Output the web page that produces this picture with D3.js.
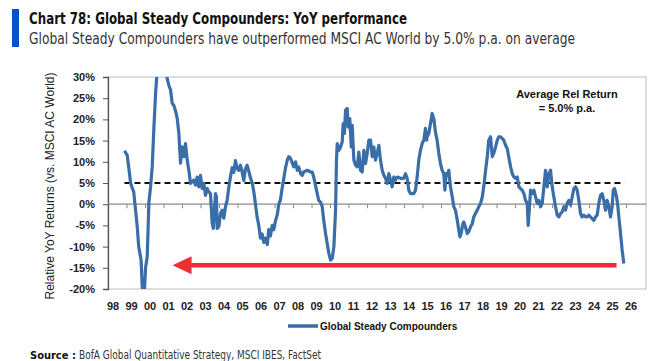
<!DOCTYPE html>
<html lang="en">
<head>
<meta charset="UTF-8">
<title>Chart 78</title>
<script src="https://cdn.jsdelivr.net/npm/d3@7"></script>
<style>
    body { margin: 0; background: #fff; }
    svg { display: block; }
    .title { font-family: "Liberation Sans Narrow", "DejaVu Sans Condensed", sans-serif; font-weight: bold; font-size: 16px; fill: #111; }
    .subtitle { font-family: "Liberation Sans Narrow", "DejaVu Sans Condensed", sans-serif; font-size: 15px; fill: #333; }
    .tick-lbl { font-family: "Liberation Sans", Arial, sans-serif; font-weight: bold; font-size: 11px; fill: #222; }
    .axis-title { font-family: "Liberation Sans", Arial, sans-serif; font-size: 12px; fill: #222; }
    .note { font-family: "Liberation Sans", Arial, sans-serif; font-weight: bold; font-size: 11px; fill: #111; }
    .source { font-family: "Liberation Sans Narrow", "DejaVu Sans Condensed", sans-serif; font-size: 12px; fill: #333; }
</style>
</head>
<body>
<div id="chart"></div>
<script>
// relative YoY return vs MSCI AC World (%)
const years = [
    1998.89, 1999.04, 1999.16, 1999.22, 1999.31, 1999.39, 1999.58, 1999.66, 1999.79, 1999.85,
    1999.89, 1999.97, 2000.03, 2000.12, 2000.21, 2000.30, 2000.39, 2000.48, 2000.57, 2000.65,
    2000.73, 2000.84, 2000.95, 2001.05, 2001.14, 2001.20, 2001.29, 2001.38, 2001.47, 2001.56,
    2001.65, 2001.74, 2001.83, 2001.92, 2002.01, 2002.10, 2002.19, 2002.28, 2002.37, 2002.46,
    2002.64, 2002.73, 2002.82, 2002.91, 2003.00, 2003.09, 2003.18, 2003.27, 2003.36, 2003.45,
    2003.54, 2003.63, 2003.69, 2003.81, 2003.86, 2003.90, 2003.99, 2004.08, 2004.17, 2004.26,
    2004.35, 2004.44, 2004.53, 2004.62, 2004.71, 2004.80, 2004.89, 2004.98, 2005.07, 2005.16,
    2005.25, 2005.34, 2005.43, 2005.52, 2005.61, 2005.70, 2005.79, 2005.88, 2005.97, 2006.06,
    2006.15, 2006.24, 2006.33, 2006.42, 2006.51, 2006.61, 2006.69, 2006.78, 2006.88, 2006.96,
    2007.05, 2007.15, 2007.23, 2007.32, 2007.42, 2007.50, 2007.59, 2007.69, 2007.77, 2007.86,
    2008.04, 2008.14, 2008.23, 2008.31, 2008.41, 2008.50, 2008.58, 2008.77, 2008.95, 2009.04,
    2009.12, 2009.31, 2009.39, 2009.49, 2009.58, 2009.66, 2009.76, 2009.85, 2009.94, 2010.03,
    2010.12, 2010.21, 2010.30, 2010.35, 2010.39, 2010.48, 2010.57, 2010.66, 2010.71, 2010.78,
    2010.84, 2010.93, 2010.98, 2011.07, 2011.15, 2011.20, 2011.29, 2011.38, 2011.47, 2011.56,
    2011.65, 2011.74, 2011.83, 2011.92, 2012.01, 2012.10, 2012.19, 2012.28, 2012.37, 2012.46,
    2012.55, 2012.64, 2012.73, 2012.82, 2012.91, 2013.00, 2013.09, 2013.18, 2013.27, 2013.36,
    2013.45, 2013.54, 2013.63, 2013.81, 2013.99, 2014.08, 2014.17, 2014.26, 2014.35, 2014.53,
    2014.62, 2014.71, 2014.80, 2014.89, 2014.98, 2015.07, 2015.16, 2015.22, 2015.25, 2015.34,
    2015.43, 2015.52, 2015.61, 2015.70, 2015.79, 2015.88, 2015.97, 2016.06, 2016.15, 2016.21,
    2016.28, 2016.34, 2016.42, 2016.51, 2016.61, 2016.69, 2016.78, 2016.88, 2016.96, 2017.02,
    2017.09, 2017.18, 2017.23, 2017.32, 2017.42, 2017.50, 2017.59, 2017.69, 2017.77, 2017.86,
    2017.96, 2018.04, 2018.14, 2018.23, 2018.31, 2018.41, 2018.50, 2018.58, 2018.68, 2018.77,
    2018.85, 2018.95, 2019.04, 2019.12, 2019.22, 2019.39, 2019.49, 2019.58, 2019.66, 2019.76,
    2019.85, 2019.94, 2020.03, 2020.12, 2020.21, 2020.30, 2020.39, 2020.48, 2020.57, 2020.66,
    2020.71, 2020.77, 2020.84, 2020.93, 2021.02, 2021.11, 2021.20, 2021.29, 2021.38, 2021.47,
    2021.56, 2021.65, 2021.74, 2021.83, 2021.92, 2022.01, 2022.10, 2022.19, 2022.28, 2022.37,
    2022.46, 2022.55, 2022.64, 2022.73, 2022.82, 2022.91, 2023.00, 2023.09, 2023.18, 2023.27,
    2023.36, 2023.45, 2023.54, 2023.63, 2023.72, 2023.81, 2023.90, 2023.99, 2024.08, 2024.17,
    2024.26, 2024.35, 2024.44, 2024.53, 2024.62, 2024.71, 2024.80, 2024.89, 2024.98, 2025.07,
    2025.16, 2025.25, 2025.31, 2025.38, 2025.49, 2025.56, 2025.65, 2025.74, 2025.79, 2025.88
];
const relReturn = [
    12.6, 11.5, 7.3, 5.0, 3.8, 2.9, -5.3, -10.0, -13.2, -19.5,
    -21.0, -20.5, -15.0, -12.4, 0.5, 4.0, 8.8, 18.0, 26.0, 31.0,
    34.0, 36.0, 35.0, 33.0, 31.0, 29.6, 28.0, 27.0, 23.8, 23.3,
    22.0, 20.3, 16.7, 9.7, 13.5, 11.2, 14.3, 10.4, 8.0, 4.9,
    5.7, 4.5, 6.4, 4.1, 6.8, 3.7, 4.9, 2.1, 3.7, 2.9,
    2.5, -4.5, -5.7, 2.5, 1.7, -5.7, -5.3, -2.2, -1.4, -3.3,
    -0.6, 0.9, 4.0, 6.5, 8.6, 7.5, 10.3, 8.4, 8.0, 9.2,
    7.6, 5.6, 8.4, 9.2, 7.8, 6.2, 5.1, 3.0, 0.0, -3.0,
    -5.0, -8.0, -7.0, -9.0, -8.0, -9.5, -6.0, -7.5, -5.0, -6.0,
    -4.0, -2.5, 0.0, 1.0, 4.0, 6.0, 8.5, 10.4, 11.2, 10.9,
    8.8, 10.0, 8.0, 8.8, 7.2, 6.8, 7.6, 8.0, 7.6, 7.6,
    6.4, 2.5, 0.9, 0.5, -0.6, -3.8, -6.9, -9.3, -11.6, -13.2,
    -12.8, -10.0, -1.4, 10.4, 14.3, 12.7, 13.5, 14.7, 19.0, 16.7,
    22.2, 22.6, 18.2, 20.2, 13.5, 18.6, 10.4, 9.2, 8.8, 12.3,
    8.0, 7.6, 12.7, 9.6, 12.0, 15.1, 15.1, 11.2, 13.5, 10.4,
    12.0, 13.9, 10.4, 8.0, 6.8, 6.1, 4.9, 7.2, 5.7, 4.1,
    6.4, 5.7, 6.4, 6.1, 6.1, 7.2, 6.1, 3.3, 2.5, 2.5,
    3.3, 6.4, 10.4, 12.7, 14.3, 15.1, 17.9, 15.1, 15.9, 16.7,
    19.0, 21.4, 20.2, 17.0, 15.1, 12.0, 9.6, 8.0, 7.2, 3.3,
    7.2, 6.8, 8.0, 4.1, 1.7, -0.6, -1.4, -3.8, -6.1, -7.7,
    -6.9, -4.6, -4.2, -5.4, -6.9, -6.5, -5.4, -4.6, -3.0, -2.2,
    -1.4, -0.6, 0.2, 1.7, 4.1, 8.0, 11.2, 15.1, 15.9, 11.2,
    12.0, 13.5, 15.1, 15.9, 15.9, 15.1, 13.9, 13.1, 11.2, 8.8,
    7.2, 6.4, 6.1, 6.4, 4.1, 3.7, 3.3, 2.5, 0.9, 0.2,
    -5.0, -1.4, 3.3, 2.5, 3.3, 1.7, 0.2, 0.9, -0.6, 0.2,
    4.1, 8.0, 4.1, 7.2, 8.0, 4.1, 1.7, -0.6, -2.6, -3.0,
    -2.2, -1.8, -0.6, -1.4, 0.2, 0.9, -0.2, 1.7, 3.7, 4.1,
    3.3, 0.9, -2.2, -3.0, -2.6, -3.0, -3.0, -2.6, -3.0, -3.4,
    -3.8, -3.0, -2.6, 0.2, 2.1, 2.5, 0.9, -1.4, 0.9, -0.6,
    -3.0, -0.6, 3.3, 3.7, 1.7, -0.6, -4.6, -8.5, -10.8, -14.0
];
const yTicks = [-20, -15, -10, -5, 0, 5, 10, 15, 20, 25, 30];
const xLabelYears = d3.range(1998, 2027);
const xLabels = ["98", "99", "00", "01", "02", "03", "04", "05", "06", "07", "08", "09", "10", "11",
    "12", "13", "14", "15", "16", "17", "18", "19", "20", "21", "22", "23", "24", "25", "26"];
const avgReturn = 5.0;
const avgSpan = [1998.89, 2025.92];
const arrowSpan = [2025.49, 2001.49]; // from latest reading back to 2001
const arrowLevel = -14.4;

const W = 649, H = 361;
const plotL = 108, plotR = 646, plotT = 77, plotB = 289;

const svg = d3.select("#chart").append("svg").attr("width", W).attr("height", H);

// title block
svg.append("rect").attr("x", 12).attr("y", 9).attr("width", 7).attr("height", 38).attr("fill", "#0a52c9");
svg.append("text").attr("class", "title").attr("x", 29).attr("y", 24)
    .attr("textLength", 378).attr("lengthAdjust", "spacingAndGlyphs")
    .text("Chart 78: Global Steady Compounders: YoY performance");
svg.append("text").attr("class", "subtitle").attr("x", 29).attr("y", 44)
    .attr("textLength", 546).attr("lengthAdjust", "spacingAndGlyphs")
    .text("Global Steady Compounders have outperformed MSCI AC World by 5.0% p.a. on average");

const x = d3.scaleLinear().domain([1998, 2027.08]).range([plotL, plotR]);
const y = d3.scaleLinear().domain([-20, 30]).range([plotB, plotT]);

// plot frame
svg.append("rect").attr("x", plotL).attr("y", plotT).attr("width", plotR - plotL).attr("height", plotB - plotT)
    .attr("fill", "none").attr("stroke", "#c8c8c8").attr("stroke-width", 1.2);

// y axis
const yAxis = d3.axisLeft(y).tickValues(yTicks).tickSize(5).tickPadding(8).tickFormat(d => d + "%");
const gy = svg.append("g").attr("transform", `translate(${plotL},0)`).call(yAxis);
gy.attr("font-family", null).attr("font-size", null);
gy.select(".domain").attr("stroke", "#555").attr("stroke-width", 1.3);
gy.selectAll(".tick line").attr("stroke", "#555");
gy.selectAll(".tick text").attr("class", "tick-lbl").attr("fill", null);

svg.append("text").attr("class", "axis-title")
    .attr("transform", `translate(54,${(plotT + plotB) / 2 + 3}) rotate(-90)`)
    .attr("text-anchor", "middle")
    .text("Relative YoY Returns (vs. MSCI AC World)");

// zero line with year ticks
const zero = d3.axisBottom(x).tickValues(d3.range(1999, 2027)).tickSize(4).tickFormat("");
const gz = svg.append("g").attr("transform", `translate(0,${y(0)})`).call(zero);
gz.select(".domain").attr("stroke", "#8a8a8a").attr("stroke-width", 1.2).attr("d", `M${plotL},0H${plotR}`);
gz.selectAll(".tick line").attr("stroke", "#8a8a8a");

// year labels
svg.append("g").selectAll("text").data(xLabelYears).join("text")
    .attr("class", "tick-lbl")
    .attr("x", d => x(d) + 5)
    .attr("y", 310)
    .attr("text-anchor", "middle")
    .text((d, i) => xLabels[i]);

// average line
svg.append("line")
    .attr("x1", x(avgSpan[0])).attr("x2", x(avgSpan[1]))
    .attr("y1", y(avgReturn)).attr("y2", y(avgReturn))
    .attr("stroke", "#111").attr("stroke-width", 2).attr("stroke-dasharray", "6,4");

// red arrow
const ay = y(arrowLevel);
svg.append("line")
    .attr("x1", x(arrowSpan[0])).attr("x2", x(arrowSpan[1]) + 16)
    .attr("y1", ay).attr("y2", ay)
    .attr("stroke", "#ec2f36").attr("stroke-width", 4.5);
const tip = x(arrowSpan[1]);
svg.append("path")
    .attr("d", `M${tip},${ay}L${tip + 19},${ay - 9}L${tip + 19},${ay + 9}Z`)
    .attr("fill", "#ec2f36");

// series
svg.append("clipPath").attr("id", "plot-clip").append("rect")
    .attr("x", plotL).attr("y", plotT).attr("width", plotR - plotL).attr("height", plotB - plotT);
const series = years.map((d, i) => [d, relReturn[i]]);
svg.append("path")
    .datum(series)
    .attr("clip-path", "url(#plot-clip)")
    .attr("fill", "none")
    .attr("stroke", "#3a6ea8")
    .attr("stroke-width", 3.2)
    .attr("stroke-linejoin", "round")
    .attr("d", d3.line().x(d => x(d[0])).y(d => y(d[1])));

// annotation
const note = svg.append("text").attr("class", "note").attr("text-anchor", "middle");
note.append("tspan").attr("x", 567).attr("y", 98).text("Average Rel Return");
note.append("tspan").attr("x", 567).attr("y", 112).text("= 5.0% p.a.");

// legend
svg.append("line").attr("x1", 288).attr("x2", 318).attr("y1", 326).attr("y2", 326)
    .attr("stroke", "#3a6ea8").attr("stroke-width", 3.5);
svg.append("text").attr("class", "note").attr("x", 320).attr("y", 330)
    .style("font-size", "10px")
    .text("Global Steady Compounders");

// source
svg.append("text").attr("class", "source").attr("x", 30).attr("y", 359)
    .style("font-size", "11px").style("font-weight", "bold").style("fill", "#111")
    .text("Source :");
svg.append("text").attr("class", "source").attr("x", 79).attr("y", 359)
    .attr("textLength", 242).attr("lengthAdjust", "spacingAndGlyphs")
    .text("BofA Global Quantitative Strategy, MSCI IBES, FactSet");
</script>
</body>
</html>
